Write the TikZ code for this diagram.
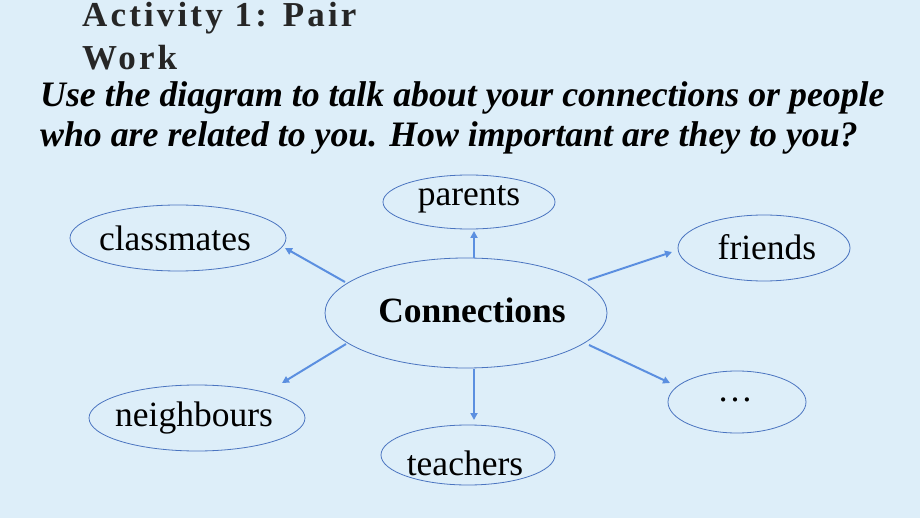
\documentclass[tikz,border=0pt]{standalone}
\usepackage{fontspec}
\setmainfont{Liberation Serif}
\usetikzlibrary{arrows.meta}
\definecolor{bg}{HTML}{DDEEF9}
\definecolor{edge}{HTML}{4A74C0}
\definecolor{arr}{HTML}{5B8FE0}
\definecolor{ttl}{HTML}{262626}
\tikzset{
  bubble/.style={edge, line width=0.8pt},
  link/.style={draw=arr, line width=2pt, -{Triangle[length=7pt,width=7pt]}},
  lbl/.style={font=\fontsize{35.5}{40}\selectfont, inner sep=0pt},
  ttlfont/.style={anchor=base west, text=ttl, inner sep=0pt, font=\fontsize{35}{40}\selectfont\bfseries\addfontfeature{LetterSpace=9}},
  instr/.style={anchor=base west, inner sep=0pt, font=\fontsize{35.8}{40}\selectfont\bfseries\itshape}
}
\begin{document}
\begin{tikzpicture}[x=1pt,y=-1pt]
\fill[bg] (0,0) rectangle (920,518);
\useasboundingbox (0,0) rectangle (920,518);
\node[ttlfont] (t1) at (82,27) {Activity 1: Pair};
\node[ttlfont] (t2) at (82,70) {Work};
\node[instr] (i1) at (40,107) {Use the diagram to talk about your connections or people};
\node[instr] (i2) at (40,147) {who are related to you. How important are they to you?};
% ellipses
\draw[bubble] (469,202) ellipse [x radius=86, y radius=27];
\draw[bubble] (178,238) ellipse [x radius=108, y radius=33];
\draw[bubble] (764,248) ellipse [x radius=86, y radius=33];
\draw[bubble] (466,313) ellipse [x radius=141, y radius=55];
\draw[bubble] (197,418) ellipse [x radius=108, y radius=33];
\draw[bubble] (468,455) ellipse [x radius=87, y radius=30];
\draw[bubble] (737,402) ellipse [x radius=69, y radius=31];
\node[lbl] (par) at (469,199) {parents};
\node[lbl] (cla) at (175,238) {classmates};
\node[lbl] (fri) at (767,247) {friends};
\node[lbl, font=\fontsize{35.5}{40}\selectfont\bfseries] (con) at (472,310) {Connections};
\node[lbl] (nei) at (194,418) {neighbours};
\node[lbl] (tea) at (465,463) {teachers};
\node[lbl] (dot) at (735,400) {\ldots};
% connectors
\coordinate (pa1) at (474,258); \coordinate (pa2) at (474,231);
\coordinate (cl1) at (345,282); \coordinate (cl2) at (285,248);
\coordinate (fr1) at (588,280); \coordinate (fr2) at (672,252);
\coordinate (ne1) at (346,344); \coordinate (ne2) at (282,383);
\coordinate (te1) at (474,369); \coordinate (te2) at (474,420);
\coordinate (do1) at (589,345); \coordinate (do2) at (670,383);
\draw[link] (pa1) -- (pa2);
\draw[link] (cl1) -- (cl2);
\draw[link] (fr1) -- (fr2);
\draw[link] (ne1) -- (ne2);
\draw[link] (te1) -- (te2);
\draw[link] (do1) -- (do2);
\end{tikzpicture}
\end{document}
